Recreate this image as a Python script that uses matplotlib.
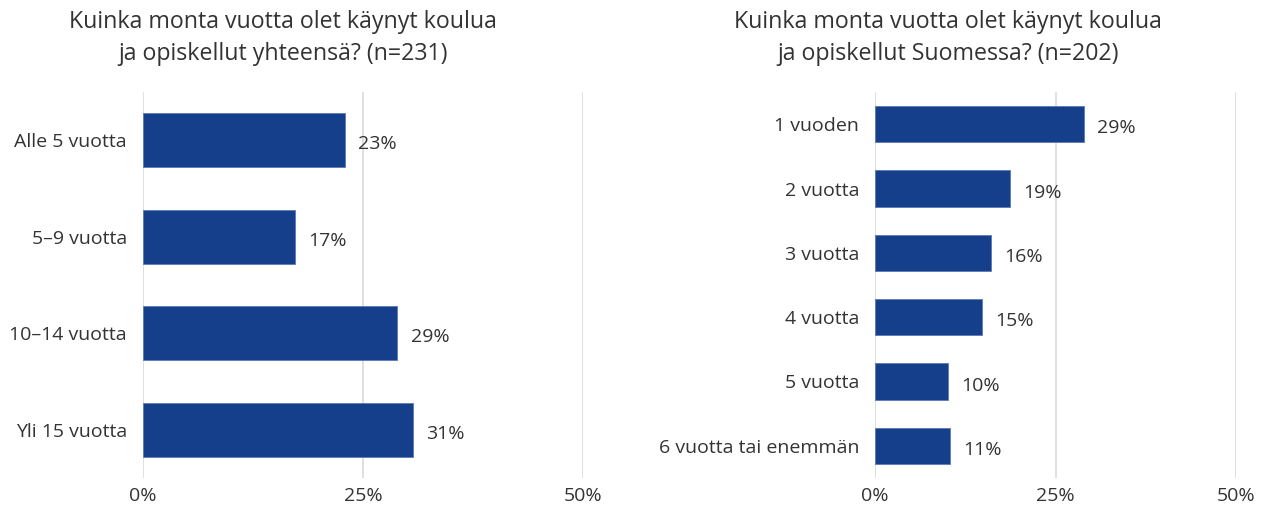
import matplotlib
matplotlib.use("Agg")
import matplotlib.pyplot as plt
from matplotlib.ticker import FixedLocator

plt.rcParams['font.family'] = ['Open Sans', 'DejaVu Sans']

left_title = "Kuinka monta vuotta olet käynyt koulua\nja opiskellut yhteensä? (n=231)"
left_cats = ["Alle 5 vuotta", "5–9 vuotta", "10–14 vuotta", "Yli 15 vuotta"]
left_vals = [22.9, 17.3, 28.9, 30.7]
left_labels = ["23%", "17%", "29%", "31%"]

right_title = "Kuinka monta vuotta olet käynyt koulua\nja opiskellut Suomessa? (n=202)"
right_cats = ["1 vuoden", "2 vuotta", "3 vuotta", "4 vuotta", "5 vuotta", "6 vuotta tai enemmän"]
right_vals = [28.9, 18.7, 16.1, 14.8, 10.1, 10.4]
right_labels = ["29%", "19%", "16%", "15%", "10%", "11%"]

xticks = [0, 25, 50]
xtick_labels = ["0%", "25%", "50%"]

BAR = "#153F8A"
TXT = "#333333"
GRID = "#D9D9D9"

W, H = 1263, 507
fig = plt.figure(figsize=(W / 100, H / 100), dpi=100)


def make_axes(px_left, px_right, cats, vals, labels):
    ax = fig.add_axes([px_left / W, 1 - 478 / H, (px_right - px_left) / W, (478 - 92) / H])
    y = list(range(len(cats)))
    ax.barh(y, vals, height=0.56, color=BAR, edgecolor="#5B7BB5", linewidth=0.6, zorder=3)
    ax.set_xlim(0, 50)
    ax.set_ylim(len(cats) - 0.5, -0.5)
    ax.xaxis.set_major_locator(FixedLocator(xticks))
    ax.set_xticklabels(xtick_labels)
    ax.set_yticks(y)
    ax.set_yticklabels(cats)
    ax.tick_params(axis="both", length=0, labelsize=14, colors=TXT)
    ax.tick_params(axis="y", pad=11.5)
    ax.tick_params(axis="x", pad=6.5)
    ax.grid(axis="x", color=GRID, linewidth=1.2, zorder=0)
    for s in ax.spines.values():
        s.set_visible(False)
    for yi, v, lab in zip(y, vals, labels):
        ax.annotate(lab, (v, yi), xytext=(9.5, -3), textcoords="offset points",
                    ha="left", va="center", fontsize=14, color=TXT)
    return ax


make_axes(143, 583, left_cats, left_vals, left_labels)
make_axes(875, 1236, right_cats, right_vals, right_labels)

fig.text(283 / W, 1 - 38 / H, left_title, ha="center", va="center", fontsize=16.7,
         color=TXT, linespacing=1.4)
fig.text(948 / W, 1 - 38 / H, right_title, ha="center", va="center", fontsize=16.7,
         color=TXT, linespacing=1.4)

fig.savefig("out.png", dpi=100)
